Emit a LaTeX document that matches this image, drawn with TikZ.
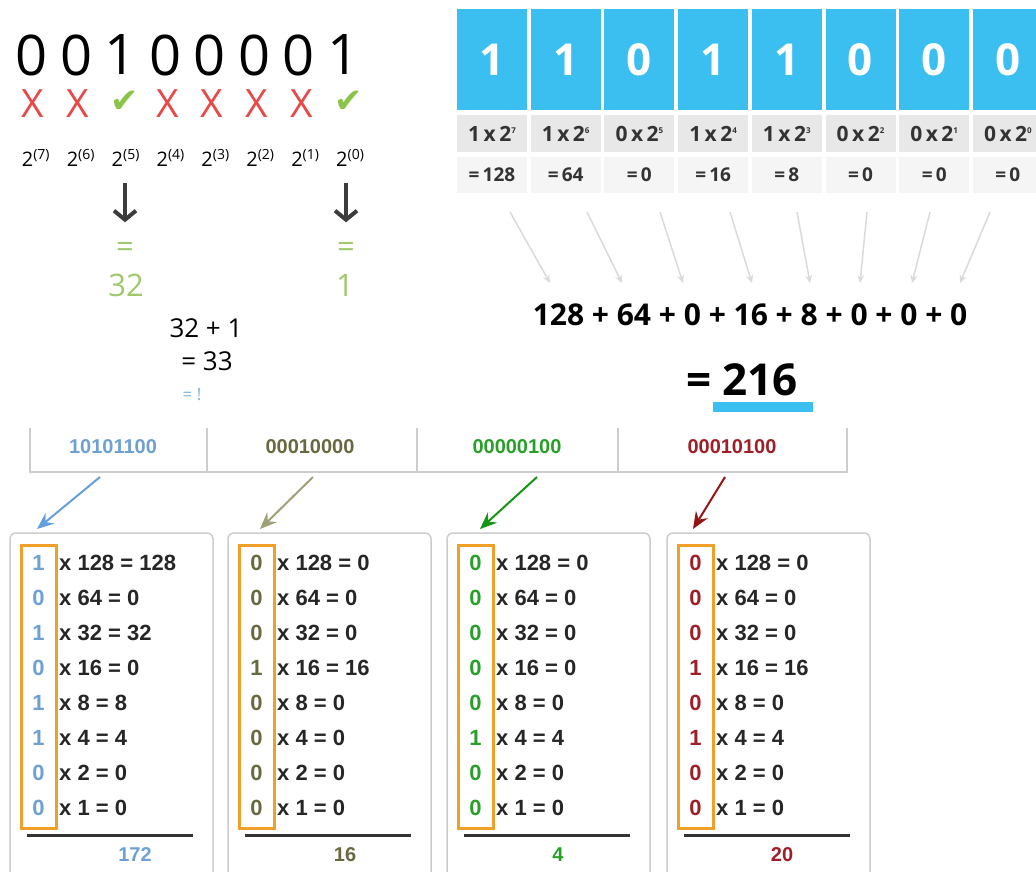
\documentclass[tikz,border=0pt]{standalone}
\usepackage{fontspec}
\setmainfont{Open Sans}
\newfontfamily\arialfont{Liberation Sans}
\newfontfamily\symfont{DejaVu Sans}
\usetikzlibrary{arrows.meta}

% colours
\definecolor{cellblue}{RGB}{59,190,240}
\definecolor{rowgray}{RGB}{232,232,232}
\definecolor{rowlight}{RGB}{245,245,245}
\definecolor{crossred}{RGB}{232,72,72}
\definecolor{tickgreen}{RGB}{140,196,74}
\definecolor{palegreen}{RGB}{160,200,110}
\definecolor{paleblue}{RGB}{120,180,215}
\definecolor{darkarrow}{RGB}{60,60,60}
\definecolor{fangray}{RGB}{218,218,218}
\definecolor{framegray}{RGB}{205,205,205}
\definecolor{hlorange}{RGB}{240,160,40}
\definecolor{bitblue}{RGB}{110,160,210}
\definecolor{bitolive}{RGB}{105,105,65}
\definecolor{bitgreen}{RGB}{40,160,40}
\definecolor{bitred}{RGB}{160,30,40}
\definecolor{arrowblue}{RGB}{100,160,220}
\definecolor{arrowolive}{RGB}{160,160,120}
\definecolor{arrowgreen}{RGB}{20,150,20}
\definecolor{arrowred}{RGB}{150,20,20}

\newcommand\tinyexp[1]{\raisebox{8pt}{\fontsize{8}{8}\selectfont #1}}

\tikzset{
  bigdigit/.style={font=\fontsize{56}{60}\selectfont, inner sep=0pt},
  crossmark/.style={font=\fontsize{39}{40}\selectfont, text=crossred, inner sep=0pt},
  tickmark/.style={font=\symfont\fontsize{34}{36}\selectfont, text=tickgreen, inner sep=0pt},
  powlabel/.style={font=\fontsize{20}{22}\selectfont, inner sep=0pt, anchor=base},
  downarrow/.style={line width=4pt, draw=darkarrow, -{Straight Barb[length=9pt,width=22pt]}},
  paletext/.style={font=\fontsize{31}{32}\selectfont, text=palegreen, inner sep=0pt},
  sumtext/.style={font=\fontsize{26}{28}\selectfont, inner sep=0pt},
  bitcell/.style={fill=cellblue, minimum width=70pt, minimum height=101pt, inner sep=0pt,
    text=white, font=\bfseries\fontsize{44}{44}\selectfont},
  termcell/.style={fill=rowgray, minimum width=70pt, minimum height=37pt, inner sep=0pt,
    text=black!80, font=\bfseries\fontsize{21}{22}\selectfont},
  valcell/.style={fill=rowlight, minimum width=70pt, minimum height=36pt, inner sep=0pt,
    text=black!80, font=\bfseries\fontsize{19}{20}\selectfont},
  fanarrow/.style={draw=fangray, line width=1.5pt, -{Stealth[length=8pt,width=7pt]}},
  headframe/.style={draw=framegray, line width=2pt},
  headtext/.style={font=\arialfont\bfseries\fontsize{20}{22}\selectfont, inner sep=0pt},
  bitarrow/.style={line width=2pt, -{Stealth[length=17pt,width=14pt,inset=6pt]}},
  boxframe/.style={draw=framegray, line width=1.5pt, rounded corners=6pt},
  hlbox/.style={draw=hlorange, line width=3pt},
  rowbit/.style={font=\arialfont\bfseries\fontsize{22}{24}\selectfont, inner sep=0pt},
  rowtext/.style={font=\arialfont\bfseries\fontsize{22}{24}\selectfont, text=black!85, inner sep=0pt, anchor=west},
  sumrule/.style={draw=black!80, line width=3pt},
  rowsum/.style={font=\arialfont\bfseries\fontsize{20}{22}\selectfont, inner sep=0pt}
}

\begin{document}
\begin{tikzpicture}[x=1pt, y=-1pt]
  \useasboundingbox (0,0) rectangle (1036,872);

  % binary digits with marks and place values
  \foreach \d [count=\i from 0] in {0,0,1,0,0,0,0,1}
    \node[bigdigit] (d\i) at ({32+44.5*\i},55) {\d};
  \foreach \i in {0,1,3,4,5,6}
    \node[crossmark] (m\i) at ({33+44.8*\i},104) {X};
  \foreach \i in {2,7}
    \node[tickmark] (m\i) at ({35+44.8*\i},102) {✔};
  \foreach \e [count=\i from 0] in {7,6,5,4,3,2,1,0}
    \node[powlabel] (p\i) at ({36+44.9*\i},167) {2\textsuperscript{(\e)}};

  % the two ones that count
  \node[paletext] (eqa) at (125,250) {=};
  \node[paletext] (va) at (126,285) {32};
  \node[paletext] (eqb) at (346,250) {=};
  \node[paletext] (vb) at (345,285) {1};
  \draw[downarrow, shorten <=16pt, shorten >=20pt] (eqa |- p2.south) -- (eqa.north);
  \draw[downarrow, shorten <=16pt, shorten >=20pt] (eqb |- p7.south) -- (eqb.north);

  \node[sumtext] (add) at (206,328) {32 + 1};
  \node[sumtext] (res) at (207,361) {= 33};
  \node[font=\fontsize{17}{18}\selectfont, text=paleblue, inner sep=0pt] (bang) at (192,395) {= !};

  % blue table of the byte
  \foreach \b/\v [count=\i from 0] in {1/128,1/64,0/0,1/16,1/8,0/0,0/0,0/0} {
    \pgfmathtruncatemacro\e{7-\i}
    \node[bitcell] (c\i) at ({492+73.7*\i},59.5) {\b};
    \node[termcell] (w\i) at ({492+73.7*\i},133.5) {\b\,x\,2\tinyexp{\e}};
    \node[valcell] (v\i) at ({492+73.7*\i},175) {=\,\v};
  }

  % light arrows into the sum
  \foreach \sx/\ex [count=\i from 0] in {510/550,587/622,660/683,730/752,797/810,867/860,930/912,990/960} {
    \coordinate (as\i) at (\sx,212);
    \coordinate (ae\i) at (\ex,283);
    \draw[fanarrow] (as\i) -- (ae\i);
  }
  \node[font=\bfseries\fontsize{30}{32}\selectfont, inner sep=0pt] (total) at (750,315)
    {128 + 64 + 0 + 16 + 8 + 0 + 0 + 0};
  \node[font=\bfseries\fontsize{44}{46}\selectfont, inner sep=0pt] (answer) at (742,380) {= 216};
  \fill[cellblue] (713,402) rectangle (813,412);

  % header of the four bytes
  \draw[headframe] (30,428) -- (30,472) -- (847,472) -- (847,428);
  \foreach \dx in {207,417,618}
    \draw[headframe] (\dx,428) -- (\dx,472);
  \foreach \txt/\hx/\col/\acol/\ax/\ex [count=\k] in
      {10101100/113/bitblue/arrowblue/100/37, 00010000/310/bitolive/arrowolive/313/260,
       00000100/517/bitgreen/arrowgreen/537/480, 00010100/732/bitred/arrowred/725/693} {
    \node[headtext, text=\col] (h\k) at (\hx,447) {\txt};
    \coordinate (hs\k) at (\ax,477);
    \coordinate (he\k) at (\ex,529);
    \draw[bitarrow, draw=\acol, fill=\acol] (hs\k) -- (he\k);
  }

  % one box per byte
  \foreach \bx/\bits/\tot/\col/\sx [count=\k] in
      {10/{1,0,1,0,1,1,0,0}/172/bitblue/125, 228/{0,0,0,1,0,0,0,0}/16/bitolive/117,
       447/{0,0,0,0,0,1,0,0}/4/bitgreen/111, 667/{0,0,0,1,0,1,0,0}/20/bitred/115} {
    \draw[boxframe] (\bx,533) rectangle ({\bx+203},892);
    \draw[hlbox] ({\bx+11},545) rectangle ({\bx+46},828);
    \foreach \b [count=\r from 0] in \bits {
      \pgfmathtruncatemacro\mult{2^(7-\r)}
      \pgfmathtruncatemacro\rowval{\b*\mult}
      \node[rowbit, text=\col] (b\k-\r) at ({\bx+28.5},{563+35*\r}) {\b};
      \node[rowtext] (t\k-\r) at ({\bx+49},{563+35*\r}) {x \mult\ = \rowval};
    }
    \draw[sumrule] ({\bx+17},835) -- ({\bx+183},835);
    \node[rowsum, text=\col] (s\k) at ({\bx+\sx},855) {\tot};
  }
\end{tikzpicture}
\end{document}
